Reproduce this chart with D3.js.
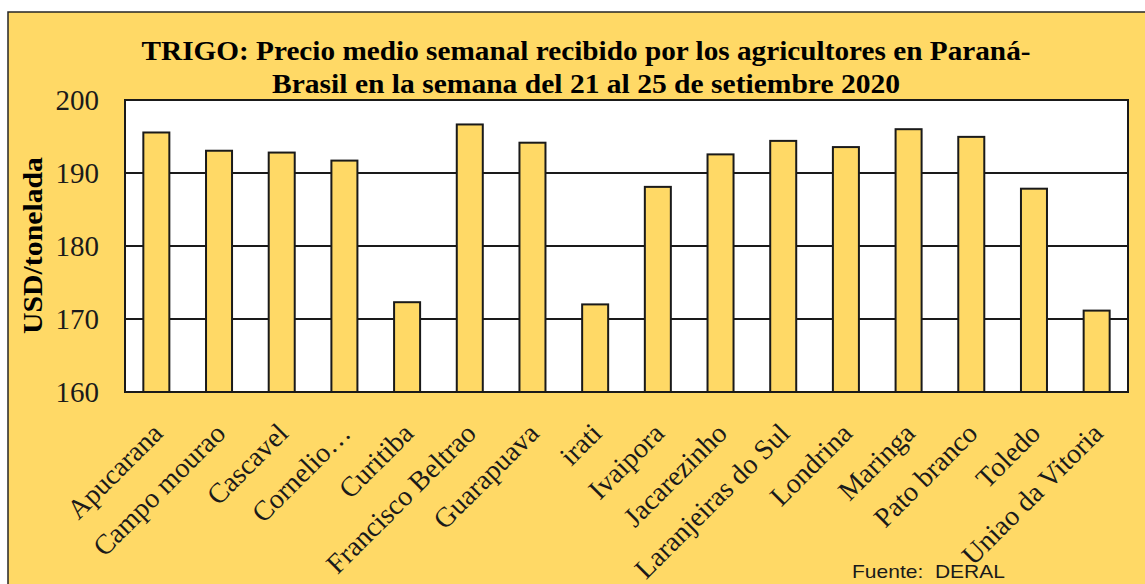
<!DOCTYPE html>
<html><head><meta charset="utf-8">
<script src="https://cdn.jsdelivr.net/npm/d3@7"></script>
<style>html,body{margin:0;padding:0;background:#fff;overflow:hidden}</style>
</head><body><svg id="chart" width="1145" height="584"></svg>
<script>
const categories = ["Apucarana","Campo mourao","Cascavel","Cornelio…","Curitiba","Francisco Beltrao","Guarapuava","irati","Ivaipora","Jacarezinho","Laranjeiras do Sul","Londrina","Maringa","Pato branco","Toledo","Uniao da Vitoria"];
const prices = [195.55,193.05,192.8,191.7,172.3,196.65,194.15,172.0,188.1,192.55,194.4,193.55,196.0,194.95,187.85,171.15];
const yTicks = [160,170,180,190,200];
const titleLines = ["TRIGO: Precio medio semanal recibido por los agricultores en Paraná-","Brasil en la semana del 21 al 25 de setiembre 2020"];
const yTitle = "USD/tonelada";
const source = "Fuente:  DERAL";

const W = 1145, H = 584;
const plot = {left:125, right:1128, top:100, bottom:392};
const gold = "#FFD966";
const svg = d3.select("#chart");
const serif = "'Liberation Serif','Times New Roman',serif";

// outer chart area
svg.append("rect").attr("x",8).attr("y",12).attr("width",W+20).attr("height",H+20)
  .attr("fill",gold).attr("stroke","#262626").attr("stroke-width",1.5);

const x = d3.scaleBand().domain(categories).range([plot.left, plot.right])
  .paddingInner(0.585).paddingOuter(0.2925);
const y = d3.scaleLinear().domain([160,200]).range([plot.bottom, plot.top]);

// plot area
svg.append("rect").attr("x",plot.left).attr("y",plot.top)
  .attr("width",plot.right-plot.left).attr("height",plot.bottom-plot.top)
  .attr("fill","#fff").attr("stroke","#1a1a1a").attr("stroke-width",2);

// gridlines
svg.append("g").selectAll("line").data(yTicks.filter(t=>t>160 && t<200)).join("line")
  .attr("x1",plot.left).attr("x2",plot.right)
  .attr("y1",d=>y(d)).attr("y2",d=>y(d))
  .attr("stroke","#1a1a1a").attr("stroke-width",2);

// bars
svg.append("g").selectAll("rect").data(prices).join("rect")
  .attr("x",(d,i)=>x(categories[i]))
  .attr("width",x.bandwidth())
  .attr("y",d=>y(d))
  .attr("height",d=>y(160)-y(d))
  .attr("fill",gold).attr("stroke","#1a1a1a").attr("stroke-width",2);

// y axis labels
const yAxis = d3.axisLeft(y).tickValues(yTicks).tickSize(0).tickPadding(26).tickFormat(d3.format("d"));
const gy = svg.append("g").attr("transform",`translate(${plot.left},0)`).call(yAxis);
gy.select(".domain").remove();
gy.selectAll("text").attr("font-family",serif).attr("font-size",29).attr("fill","#1a1a1a");

// x axis labels
const xAxis = d3.axisBottom(x).tickSize(0).tickPadding(0);
const gx = svg.append("g").attr("transform",`translate(0,${plot.bottom})`).call(xAxis);
gx.select(".domain").remove();
gx.selectAll("text")
  .attr("font-family",serif).attr("font-size",28).attr("fill","#1a1a1a")
  .attr("text-anchor","end").attr("dy",null).attr("y",null)
  .attr("transform","translate(8,43) rotate(-45)");

// title
const tw = [889, 628];
svg.append("g").selectAll("text").data(titleLines).join("text")
  .attr("x",586).attr("y",(d,i)=>i===0?60:93)
  .attr("text-anchor","middle")
  .attr("font-family",serif).attr("font-weight","bold").attr("font-size",27)
  .attr("fill","#000")
  .attr("textLength",(d,i)=>tw[i]).attr("lengthAdjust","spacingAndGlyphs")
  .text(d=>d);

// y title
svg.append("text")
  .attr("transform","translate(42,245.5) rotate(-90)")
  .attr("text-anchor","middle")
  .attr("font-family",serif).attr("font-weight","bold").attr("font-size",28)
  .attr("fill","#000")
  .attr("textLength",177).attr("lengthAdjust","spacingAndGlyphs")
  .text(yTitle);

// source
svg.append("text").attr("x",852).attr("y",578)
  .attr("font-family","'Liberation Sans',Arial,sans-serif").attr("font-size",19)
  .attr("fill","#1a1a1a").style("white-space","pre")
  .attr("textLength",153).attr("lengthAdjust","spacingAndGlyphs")
  .text(source);
</script></body></html>
